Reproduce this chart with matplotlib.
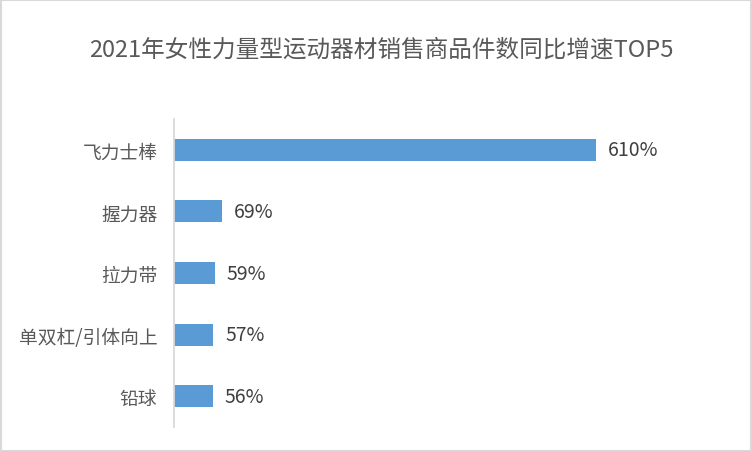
import matplotlib
matplotlib.use("Agg")
import matplotlib.pyplot as plt
from matplotlib.patches import Rectangle

plt.rcParams['font.family'] = ['Noto Sans CJK SC', 'DejaVu Sans']

categories = ["飞力士棒", "握力器", "拉力带", "单双杠/引体向上", "铅球"]
values = [610, 69, 59, 57, 56]
value_labels = ["610%", "69%", "59%", "57%", "56%"]
title = "2021年女性力量型运动器材销售商品件数同比增速TOP5"

W, H = 752, 452
fig = plt.figure(figsize=(W/100, H/100), dpi=100)
fig.patch.set_facecolor("white")
fig.patches.append(Rectangle((0.5/W, 0.5/H), 1-1.5/W, 1-1.5/H, transform=fig.transFigure,
                             fill=False, edgecolor="#d9d9d9", linewidth=1.5, zorder=10))

left_px, right_px = 174, 700
top_px, bot_px = 120, 428
ax = fig.add_axes([left_px/W, 1-bot_px/H, (right_px-left_px)/W, (bot_px-top_px)/H])

y = list(range(len(categories)))
ax.barh(y, values, height=0.356, color="#5b9bd5", zorder=2)
xmax = 610 * (right_px-left_px) / (596-left_px)
ax.set_xlim(0, xmax)
ax.set_ylim(len(categories)-0.5, -0.5)
ax.set_yticks(y)
ax.set_yticklabels(categories, fontsize=13.5, color="#595959")
ax.tick_params(axis='y', length=0, pad=12)
ax.set_xticks([])
for s in ["top", "right", "bottom"]:
    ax.spines[s].set_visible(False)
ax.spines["left"].set_color("#d9d9d9")
ax.spines["left"].set_linewidth(1.3)

for yi, v, lab in zip(y, values, value_labels):
    ax.annotate(lab, (v, yi), xytext=(8.5, 0), textcoords="offset points",
                va="center", ha="left", fontsize=14, color="#404040")

fig.text(381/W, 1-50/H, title, ha="center", va="center", fontsize=17, color="#595959")

fig.savefig("out.png", dpi=100)
